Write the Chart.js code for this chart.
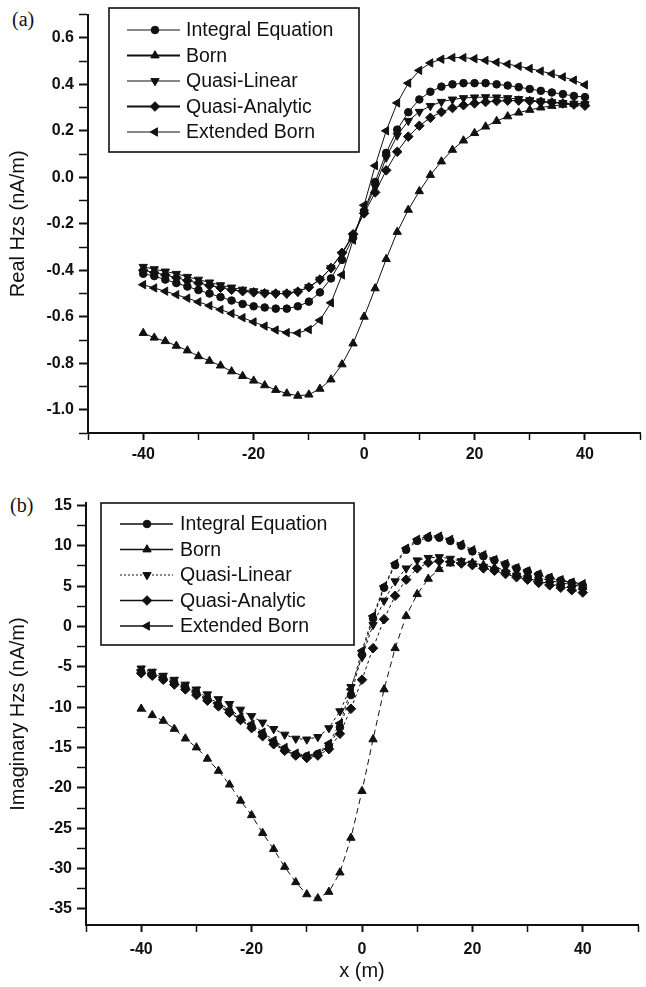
<!DOCTYPE html>
<html>
<head>
<meta charset="utf-8">
<script src="https://cdn.jsdelivr.net/npm/chart.js@4/dist/chart.umd.min.js"></script>
<style>
  body { margin: 0; background: #fff; width: 646px; height: 987px; position: relative; overflow: hidden; }
  canvas { position: absolute; left: 0; }
  #chartA { top: 0; }
  #chartB { top: 470px; }
  .tag { position: absolute; font: 20px "Liberation Serif", "DejaVu Serif", serif; color: #111; }
</style>
</head>
<body>
<div class="tag" style="left:12px;top:8px">(a)</div>
<div class="tag" style="left:10px;top:494px">(b)</div>
<canvas id="chartA" width="646" height="470"></canvas>
<canvas id="chartB" width="646" height="517"></canvas>
<script>
// x positions (m), every 2 m
const xs = [-40, -38, -36, -34, -32, -30, -28, -26, -24, -22,
            -20, -18, -16, -14, -12, -10, -8, -6, -4, -2,
            0, 2, 4, 6, 8, 10, 12, 14, 16, 18,
            20, 22, 24, 26, 28, 30, 32, 34, 36, 38, 40];

const seriesNames = ['Integral Equation', 'Born', 'Quasi-Linear', 'Quasi-Analytic', 'Extended Born'];

// (a) Real Hzs (nA/m)
const realIntegral = [-0.415, -0.425, -0.44, -0.455, -0.47, -0.485, -0.50, -0.515, -0.53, -0.545,
  -0.555, -0.56, -0.565, -0.565, -0.555, -0.535, -0.495, -0.435, -0.355, -0.26,
  -0.145, -0.02, 0.105, 0.205, 0.28, 0.335, 0.368, 0.39, 0.40, 0.405,
  0.405, 0.405, 0.40, 0.395, 0.388, 0.38, 0.372, 0.365, 0.358, 0.35, 0.345];
const realBorn = [-0.67, -0.69, -0.705, -0.725, -0.745, -0.77, -0.79, -0.81, -0.835, -0.855,
  -0.875, -0.895, -0.915, -0.93, -0.94, -0.935, -0.91, -0.87, -0.805, -0.715,
  -0.60, -0.478, -0.352, -0.235, -0.14, -0.06, 0.01, 0.068, 0.118, 0.158,
  0.19, 0.218, 0.242, 0.262, 0.278, 0.29, 0.30, 0.307, 0.312, 0.316, 0.32];
const realQuasiLinear = [-0.385, -0.395, -0.405, -0.415, -0.428, -0.44, -0.452, -0.464, -0.474, -0.483,
  -0.49, -0.496, -0.50, -0.50, -0.492, -0.472, -0.44, -0.39, -0.33, -0.25,
  -0.15, -0.04, 0.085, 0.18, 0.243, 0.282, 0.307, 0.325, 0.335, 0.341,
  0.344, 0.345, 0.344, 0.341, 0.337, 0.332, 0.327, 0.323, 0.32, 0.317, 0.315];
const realQuasiAnalytic = [-0.40, -0.41, -0.42, -0.432, -0.444, -0.455, -0.465, -0.475, -0.484, -0.49,
  -0.495, -0.499, -0.50, -0.50, -0.492, -0.473, -0.44, -0.39, -0.325, -0.245,
  -0.155, -0.065, 0.03, 0.11, 0.175, 0.222, 0.256, 0.281, 0.298, 0.31,
  0.318, 0.324, 0.328, 0.33, 0.33, 0.328, 0.325, 0.322, 0.318, 0.313, 0.308];
const realExtended = [-0.462, -0.476, -0.49, -0.505, -0.52, -0.536, -0.552, -0.569, -0.586, -0.604,
  -0.622, -0.64, -0.657, -0.668, -0.67, -0.655, -0.615, -0.54, -0.42, -0.27,
  -0.12, 0.05, 0.20, 0.32, 0.405, 0.46, 0.492, 0.508, 0.515, 0.515,
  0.51, 0.503, 0.495, 0.487, 0.478, 0.468, 0.457, 0.445, 0.432, 0.418, 0.398];

// (b) Imaginary Hzs (nA/m)
const imagIntegral = [-5.6, -6.0, -6.5, -7.0, -7.6, -8.3, -9.0, -9.8, -10.6, -11.5,
  -12.4, -13.4, -14.4, -15.3, -15.9, -16.1, -15.8, -14.8, -12.5, -8.5,
  -3.5, 1.0, 4.8, 7.6, 9.5, 10.6, 11.0, 11.0, 10.6, 10.0,
  9.3, 8.7, 8.2, 7.7, 7.2, 6.8, 6.4, 6.0, 5.7, 5.4, 5.1];
const imagBorn = [-10.2, -11.0, -11.7, -12.7, -13.9, -15.0, -16.4, -17.9, -19.6, -21.6,
  -23.4, -25.6, -27.6, -29.8, -31.7, -33.2, -33.7, -32.9, -30.5, -26.2,
  -20.4, -14.0, -7.8, -2.7, 1.3, 4.0, 5.9, 7.1, 7.8, 8.0,
  7.9, 7.6, 7.3, 7.0, 6.6, 6.3, 6.0, 5.7, 5.4, 5.2, 4.9];
const imagQuasiLinear = [-5.2, -5.6, -6.1, -6.6, -7.2, -7.8, -8.4, -9.0, -9.6, -10.3,
  -11.1, -11.9, -12.7, -13.4, -13.9, -14.0, -13.7, -12.6, -10.5, -7.5,
  -3.8, 0.2, 3.2, 5.6, 7.2, 8.2, 8.5, 8.6, 8.4, 8.1,
  7.8, 7.4, 7.0, 6.7, 6.3, 6.0, 5.6, 5.3, 5.0, 4.7, 4.5];
const imagQuasiAnalytic = [-5.8, -6.1, -6.6, -7.2, -7.8, -8.5, -9.2, -9.9, -10.7, -11.6,
  -12.6, -13.6, -14.6, -15.4, -16.0, -16.3, -16.0, -15.2, -13.3, -10.2,
  -6.6, -2.7, 0.9, 3.8, 5.8, 7.2, 7.9, 8.1, 8.0, 7.8,
  7.6, 7.2, 6.9, 6.5, 6.1, 5.8, 5.4, 5.1, 4.8, 4.5, 4.2];
const imagExtended = [-5.4, -5.8, -6.3, -6.8, -7.4, -8.0, -8.8, -9.5, -10.3, -11.2,
  -12.1, -13.1, -14.1, -15.0, -15.7, -16.0, -15.7, -14.5, -12.0, -7.8,
  -3.0, 1.3, 5.0, 7.8, 9.7, 10.8, 11.2, 11.2, 10.8, 10.2,
  9.5, 8.9, 8.3, 7.8, 7.3, 6.9, 6.5, 6.1, 5.8, 5.5, 5.3];

const INK = '#111';
const SANS = '"Liberation Sans", Arial, Helvetica, sans-serif';

// marker per series: circle, up, down, diamond, left
const markers = [
  { pointStyle: 'circle', pointRotation: 0, pointRadius: 3.8 },
  { pointStyle: 'triangle', pointRotation: 0, pointRadius: 4.8 },
  { pointStyle: 'triangle', pointRotation: 180, pointRadius: 4.8 },
  { pointStyle: 'rectRot', pointRotation: 0, pointRadius: 4.8 },
  { pointStyle: 'triangle', pointRotation: -90, pointRadius: 4.8 }
];

// legend drawn as a framed box inside the plot
const boxLegend = {
  id: 'boxLegend',
  afterDraw(chart, args, o) {
    const ctx = chart.ctx;
    ctx.save();
    ctx.strokeStyle = INK;
    ctx.fillStyle = INK;
    ctx.lineWidth = 1.6;
    ctx.strokeRect(o.left, o.top, o.width, o.height);
    ctx.font = '19.5px ' + SANS;
    ctx.textBaseline = 'middle';
    chart.data.datasets.forEach((ds, i) => {
      const y = o.rowTop + i * o.rowGap;
      ctx.beginPath();
      ctx.setLineDash(ds.legendDash || []);
      ctx.lineWidth = ds.legendWidth || 1.2;
      ctx.moveTo(o.lineX0, y);
      ctx.lineTo(o.lineX1, y);
      ctx.stroke();
      ctx.setLineDash([]);
      ctx.lineWidth = 1;
      Chart.helpers.drawPoint(ctx, {
        pointStyle: ds.pointStyle, rotation: ds.pointRotation,
        radius: ds.pointRadius, borderWidth: 1
      }, o.markX, y);
      ctx.fillText(ds.label, o.textX, y + 1);
    });
    ctx.restore();
  }
};

function makeDatasets(series, dashes, legendDashes, legendWidths) {
  return series.map((vals, i) => ({
    label: seriesNames[i],
    data: xs.map((x, j) => ({ x: x, y: vals[j] })),
    borderColor: INK,
    backgroundColor: INK,
    pointBackgroundColor: INK,
    pointBorderColor: INK,
    pointBorderWidth: 1,
    borderWidth: 1,
    borderDash: dashes[i],
    legendDash: legendDashes[i],
    legendWidth: legendWidths[i],
    tension: 0,
    ...markers[i]
  }));
}

function axisX(height, pad, title) {
  return {
    type: 'linear', min: -50, max: 50,
    afterFit: s => { s.height = height; },
    ticks: {
      stepSize: 10, autoSkip: false, maxRotation: 0, includeBounds: false,
      padding: pad, color: INK, font: { family: SANS, size: 16, weight: 'bold' },
      callback: v => (v % 20 === 0 ? String(v) : '')
    },
    grid: {
      drawOnChartArea: false, tickLength: 7, tickColor: INK,
      tickWidth: c => (c.tick && c.tick.value % 20 === 0 ? 2 : 1.5)
    },
    border: { color: INK, width: 2 },
    title: title
  };
}

function axisY(width, min, max, step, major, fmt, title) {
  return {
    min: min, max: max,
    afterFit: s => { s.width = width; },
    ticks: {
      stepSize: step, autoSkip: false, includeBounds: false,
      padding: 5, color: INK, font: { family: SANS, size: 16, weight: 'bold' },
      callback: v => {
        const k = Math.round(v / step);
        return k % major === 0 && Math.abs(k * step - v) < 1e-6 ? fmt(v) : '';
      }
    },
    grid: {
      drawOnChartArea: false, tickLength: 9, tickColor: INK,
      tickWidth: c => (c.tick && Math.round(c.tick.value / step) % major === 0 ? 2 : 1.5)
    },
    border: { color: INK, width: 2 },
    title: {
      display: true, text: title, color: INK,
      font: { family: SANS, size: 20 }, padding: { top: 6, bottom: 0 }
    }
  };
}

const solid = [[], [], [], [], []];

new Chart(document.getElementById('chartA'), {
  type: 'line',
  data: {
    datasets: makeDatasets(
      [realIntegral, realBorn, realQuasiLinear, realQuasiAnalytic, realExtended],
      solid, solid, [1, 1.8, 1.2, 1.8, 1.2])
  },
  options: {
    responsive: false,
    animation: false,
    layout: { padding: { top: 10, right: 0, left: 0, bottom: 0 } },
    scales: {
      x: axisX(37, 5, { display: false }),
      y: axisY(88, -1.1, 0.7, 0.1, 2,
        v => (Math.round(v * 10) / 10 + 0).toFixed(1), 'Real Hzs (nA/m)')
    },
    plugins: {
      legend: { display: false },
      tooltip: { enabled: false },
      boxLegend: { left: 109, top: 8, width: 250, height: 144, rowTop: 30, rowGap: 25.5,
                   lineX0: 127, lineX1: 180, markX: 155, textX: 186 }
    }
  },
  plugins: [boxLegend]
});

new Chart(document.getElementById('chartB'), {
  type: 'line',
  data: {
    datasets: makeDatasets(
      [imagIntegral, imagBorn, imagQuasiLinear, imagQuasiAnalytic, imagExtended],
      [[3, 3], [6, 4], [3, 3], [3, 3], [3, 3]],
      [[], [], [2, 2], [], []], [1.5, 1.5, 1.2, 1.5, 1.5])
  },
  options: {
    responsive: false,
    animation: false,
    layout: { padding: { top: 33, right: 2, left: 0, bottom: 0 } },
    scales: {
      x: axisX(62, 8, {
        display: true, text: 'x (m)', color: INK,
        font: { family: SANS, size: 20 }, padding: { top: 0, bottom: 4 }
      }),
      y: axisY(86, -37, 15.3, 2.5, 2, v => String(Math.round(v)), 'Imaginary Hzs (nA/m)')
    },
    plugins: {
      legend: { display: false },
      tooltip: { enabled: false },
      boxLegend: { left: 101, top: 33, width: 253, height: 142, rowTop: 54, rowGap: 25.5,
                   lineX0: 120, lineX1: 173, markX: 147, textX: 180 }
    }
  },
  plugins: [boxLegend]
});
</script>
</body>
</html>
